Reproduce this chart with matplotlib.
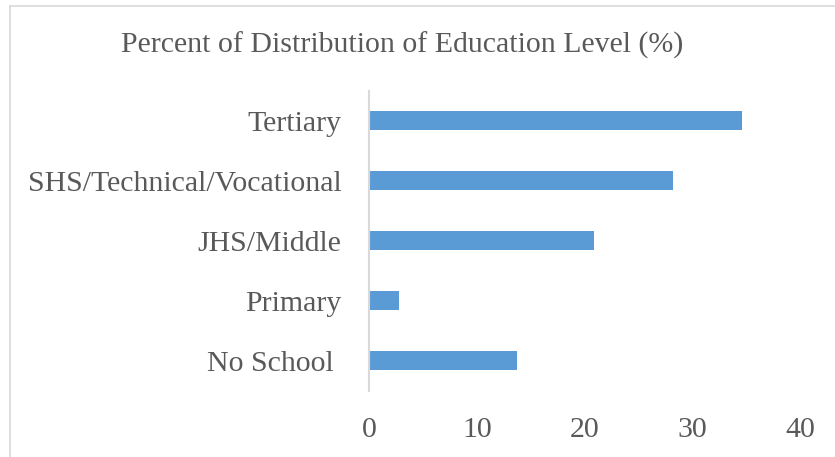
import matplotlib
matplotlib.use('Agg')
import matplotlib.pyplot as plt
from matplotlib.lines import Line2D

# education level shares (%), bottom to top
levels = ['No School ', 'Primary', 'JHS/Middle', 'SHS/Technical/Vocational', 'Tertiary']
percent = [13.7, 2.7, 20.9, 28.2, 34.6]
x_ticks = [0, 10, 20, 30, 40]

TEXT = '#595959'
BAR = '#5B9BD5'
GRID = '#D9D9D9'
FS = 21.5

plt.rcParams['font.family'] = ['Liberation Serif', 'DejaVu Serif']

fig = plt.figure(figsize=(8.35, 4.57), dpi=100)
ax = fig.add_axes([0.4425, 0.1451, 0.5156, 0.6565])

ax.barh(range(len(levels)), percent, height=0.32, color=BAR)
ax.set_ylim(-0.5, len(levels) - 0.5)
ax.set_xlim(0, 40)
ax.set_xticks(x_ticks)
ax.set_yticks(range(len(levels)))
ax.set_yticklabels(levels)

for side in ['top', 'right', 'bottom']:
    ax.spines[side].set_visible(False)
ax.spines['left'].set_color(GRID)
ax.spines['left'].set_linewidth(1.5)

ax.tick_params(axis='both', length=0, labelsize=FS, colors=TEXT)
ax.tick_params(axis='x', pad=19)
ax.tick_params(axis='y', pad=20)

fig.text(402 / 835, 1 - 45 / 457, 'Percent of Distribution of Education Level (%)',
         ha='center', va='center', fontsize=FS, color=TEXT)

# chart area frame (only top and left edges fall inside the image)
fig.add_artist(Line2D([10 / 835, 10 / 835], [0, 1 - 6 / 457], transform=fig.transFigure,
                      color=GRID, lw=1.2))
fig.add_artist(Line2D([10 / 835, 1], [1 - 6 / 457, 1 - 6 / 457], transform=fig.transFigure,
                      color=GRID, lw=1.2))

fig.savefig('out.png', dpi=100)
